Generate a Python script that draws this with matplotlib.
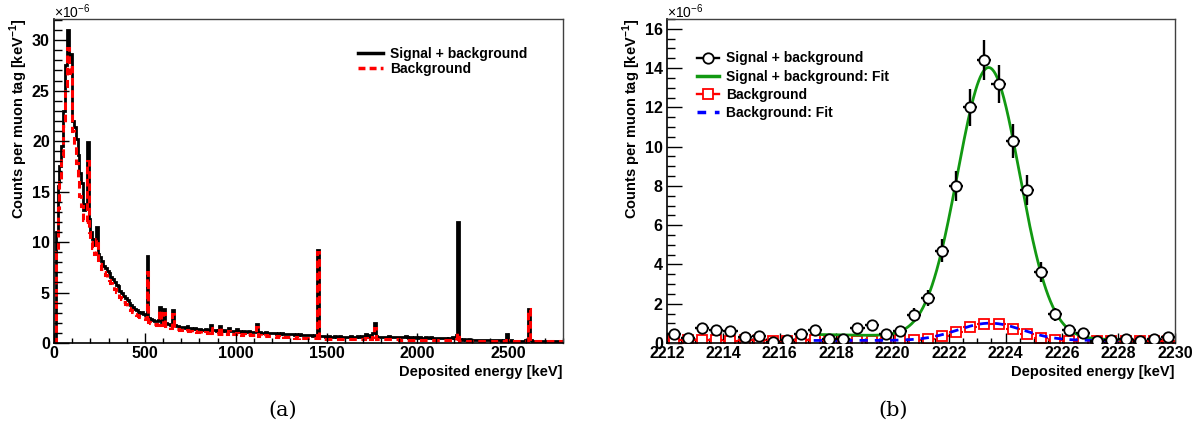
import matplotlib
matplotlib.use('Agg')
import matplotlib.pyplot as plt
import numpy as np
from matplotlib.lines import Line2D
from matplotlib.ticker import MultipleLocator

plt.rcParams['font.family'] = ['Liberation Sans', 'DejaVu Sans']
plt.rcParams['mathtext.fontset'] = 'custom'
plt.rcParams['mathtext.rm'] = 'Liberation Sans'
plt.rcParams['mathtext.bf'] = 'Liberation Sans:bold'

# ---- (a) full spectrum, 10 keV bins from 0 to 2800 keV, units of 1e-6 ----
bin_width = 10
sig_bkg = [
    0.3, 11.0, 15.6, 17.5, 19.5, 23.0, 27.5, 31.0, 27.8, 28.6,
    22.0, 21.4, 20.2, 18.6, 16.8, 15.9, 13.2, 13.8, 19.9, 12.3,
    11.0, 10.3, 9.7, 11.5, 8.8, 8.5, 8.1, 7.6, 7.4, 7.1,
    6.9, 6.5, 6.3, 6.0, 5.7, 5.6, 5.2, 5.0, 4.7, 4.5,
    4.3, 4.0, 3.8, 3.6, 3.4, 3.3, 3.1, 3.0, 3.1, 2.9,
    2.8, 8.6, 2.5, 2.4, 2.3, 2.2, 2.2, 2.3, 3.6, 2.1,
    3.4, 2.0, 1.9, 1.9, 1.8, 3.3, 1.8, 1.7, 1.7, 1.6,
    1.6, 1.6, 1.5, 1.7, 1.5, 1.5, 1.4, 1.5, 1.4, 1.4,
    1.4, 1.3, 1.3, 1.4, 1.3, 1.3, 1.8, 1.3, 1.3, 1.2,
    1.3, 1.7, 1.2, 1.3, 1.2, 1.2, 1.5, 1.2, 1.2, 1.2,
    1.4, 1.1, 1.2, 1.1, 1.2, 1.1, 1.1, 1.2, 1.1, 1.1,
    1.1, 1.9, 1.0, 1.1, 1.0, 1.0, 1.1, 1.0, 1.0, 1.0,
    1.0, 1.0, 0.9, 1.0, 0.9, 1.0, 0.9, 0.9, 0.9, 0.9,
    0.9, 0.9, 0.8, 0.9, 0.8, 0.9, 0.8, 0.8, 0.8, 0.8,
    0.8, 0.8, 0.7, 0.8, 0.8, 9.2, 0.7, 0.7, 0.7, 0.6,
    0.6, 0.7, 0.6, 0.6, 0.7, 0.6, 0.6, 0.7, 0.6, 0.6,
    0.6, 0.6, 0.6, 0.7, 0.6, 0.6, 0.6, 0.7, 0.6, 0.7,
    0.7, 0.9, 0.7, 0.8, 0.6, 1.0, 2.0, 0.7, 0.6, 0.6,
    0.6, 0.6, 0.6, 0.6, 0.7, 0.6, 0.6, 0.6, 0.6, 0.6,
    0.6, 0.6, 0.6, 0.7, 0.6, 0.5, 0.6, 0.5, 0.6, 0.6,
    0.5, 0.6, 0.5, 0.5, 0.6, 0.5, 0.5, 0.6, 0.5, 0.5,
    0.5, 0.5, 0.5, 0.5, 0.5, 0.5, 0.4, 0.5, 0.5, 0.6,
    0.5, 0.8, 12.0, 0.4, 0.3, 0.4, 0.3, 0.3, 0.4, 0.3,
    0.3, 0.3, 0.3, 0.3, 0.3, 0.3, 0.3, 0.3, 0.3, 0.3,
    0.3, 0.3, 0.3, 0.3, 0.3, 0.3, 0.2, 0.3, 0.3, 0.9,
    0.2, 0.3, 0.2, 0.2, 0.2, 0.2, 0.2, 0.2, 0.2, 0.3,
    0.3, 3.4, 0.3, 0.2, 0.2, 0.2, 0.2, 0.2, 0.2, 0.2,
    0.2, 0.2, 0.2, 0.2, 0.2, 0.2, 0.2, 0.2, 0.2, 0.2,
]
bkg = [
    0.0, 9.0, 13.4, 16.0, 18.5, 21.5, 25.5, 29.2, 26.8, 27.3,
    21.0, 19.6, 17.8, 16.3, 14.6, 13.6, 12.2, 12.0, 18.0, 11.0,
    10.0, 9.4, 8.8, 10.3, 8.0, 7.8, 7.3, 7.0, 6.7, 6.5,
    6.2, 5.9, 5.6, 5.4, 5.1, 4.9, 4.6, 4.4, 4.1, 3.9,
    3.7, 3.5, 3.3, 3.1, 2.9, 2.8, 2.7, 2.6, 2.6, 2.5,
    2.4, 7.0, 2.1, 2.0, 1.9, 1.9, 1.8, 1.9, 3.3, 1.8,
    3.0, 1.7, 1.6, 1.6, 1.5, 2.9, 1.5, 1.4, 1.4, 1.3,
    1.3, 1.3, 1.2, 1.3, 1.2, 1.2, 1.1, 1.2, 1.1, 1.1,
    1.1, 1.0, 1.0, 1.1, 1.0, 1.0, 1.5, 1.0, 1.0, 0.9,
    1.0, 1.6, 0.9, 1.0, 0.9, 0.9, 1.2, 0.9, 0.9, 0.9,
    1.0, 0.8, 0.9, 0.8, 0.9, 0.8, 0.8, 0.9, 0.8, 0.8,
    0.8, 1.6, 0.7, 0.8, 0.7, 0.7, 0.8, 0.7, 0.7, 0.7,
    0.7, 0.7, 0.6, 0.7, 0.6, 0.7, 0.6, 0.6, 0.6, 0.6,
    0.6, 0.6, 0.5, 0.6, 0.5, 0.6, 0.5, 0.5, 0.5, 0.5,
    0.5, 0.5, 0.5, 0.5, 0.5, 9.0, 0.5, 0.4, 0.4, 0.4,
    0.4, 0.4, 0.4, 0.4, 0.4, 0.4, 0.4, 0.4, 0.4, 0.4,
    0.4, 0.4, 0.4, 0.4, 0.4, 0.4, 0.4, 0.4, 0.4, 0.4,
    0.4, 0.5, 0.4, 0.5, 0.4, 0.6, 1.5, 0.4, 0.4, 0.4,
    0.35, 0.35, 0.35, 0.35, 0.35, 0.35, 0.35, 0.35, 0.35, 0.35,
    0.3, 0.3, 0.3, 0.3, 0.3, 0.3, 0.3, 0.3, 0.3, 0.3,
    0.3, 0.3, 0.3, 0.3, 0.3, 0.3, 0.3, 0.3, 0.3, 0.3,
    0.3, 0.3, 0.3, 0.3, 0.3, 0.3, 0.3, 0.3, 0.3, 0.3,
    0.3, 0.4, 1.0, 0.2, 0.2, 0.2, 0.2, 0.2, 0.2, 0.2,
    0.2, 0.2, 0.2, 0.2, 0.2, 0.2, 0.2, 0.2, 0.2, 0.2,
    0.2, 0.2, 0.2, 0.2, 0.2, 0.2, 0.15, 0.2, 0.2, 0.3,
    0.15, 0.15, 0.15, 0.15, 0.15, 0.15, 0.15, 0.15, 0.15, 0.2,
    0.2, 3.4, 0.2, 0.15, 0.15, 0.15, 0.15, 0.15, 0.15, 0.15,
    0.15, 0.15, 0.15, 0.15, 0.15, 0.15, 0.15, 0.15, 0.15, 0.15,
]

# ---- (b) zoom on the 2223 keV line, 0.5 keV bins, units of 1e-6 ----
zoom_centers = [2212.25 + 0.5 * i for i in range(36)]
zoom_sig = [0.44, 0.24, 0.75, 0.68, 0.60, 0.29, 0.36, 0.07, 0.15, 0.44,
            0.68, 0.20, 0.20, 0.75, 0.92, 0.44, 0.62, 1.45, 2.3, 4.7,
            8.0, 12.0, 14.4, 13.2, 10.3, 7.8, 3.6, 1.46, 0.66, 0.53,
            0.12, 0.15, 0.22, 0.10, 0.20, 0.29]
zoom_sig_err = [0.18, 0.13, 0.23, 0.22, 0.21, 0.15, 0.16, 0.07, 0.10, 0.18,
                0.22, 0.12, 0.12, 0.23, 0.26, 0.18, 0.21, 0.33, 0.41, 0.58,
                0.76, 0.93, 1.02, 0.98, 0.87, 0.75, 0.51, 0.33, 0.22, 0.20,
                0.09, 0.10, 0.13, 0.09, 0.12, 0.15]
zoom_bkg = [0.15, 0.13, 0.14, 0.14, 0.12, 0.15, 0.14, 0.09, 0.12, 0.14,
            0.13, 0.14, 0.14, 0.12, 0.12, 0.14, 0.15, 0.16, 0.22, 0.36,
            0.58, 0.82, 0.99, 0.95, 0.70, 0.48, 0.25, 0.17, 0.12, 0.10,
            0.10, 0.10, 0.12, 0.10, 0.12, 0.10]

# fit parameters: gaussian + linear background
fit_range = (2217.2, 2228.0)
sig_fit = dict(amp=13.75, mu=2223.4, sigma=1.1, b0=0.28, b1=-0.025)
bkg_fit = dict(amp=0.88, mu=2223.45, sigma=1.15, b0=0.13, b1=0.0)


def gauss_lin(e, amp, mu, sigma, b0, b1):
    return amp * np.exp(-0.5 * ((e - mu) / sigma) ** 2) + b0 + b1 * (e - mu)


def style_axes(ax):
    for side in ['left', 'bottom']:
        ax.spines[side].set_linewidth(1.2)
    for side in ['top', 'right']:
        ax.spines[side].set_linewidth(1.0)
        ax.spines[side].set_color('#404040')
    ax.tick_params(which='both', direction='in', top=False, right=False,
                   labelsize=11.5, width=1.0)
    ax.tick_params(axis='y', which='major', length=11, pad=3)
    ax.tick_params(axis='y', which='minor', length=5.5)
    ax.tick_params(axis='x', which='major', length=7, pad=2)
    ax.tick_params(axis='x', which='minor', length=3.5)
    for lab in ax.get_xticklabels() + ax.get_yticklabels():
        lab.set_fontweight('bold')
    ax.set_ylabel(r'Counts per muon tag [keV$^{\mathbf{-1}}$]', fontsize=10.5,
                  fontweight='bold', loc='top', labelpad=1)
    ax.set_xlabel('Deposited energy [keV]', fontsize=10.5, fontweight='bold',
                  loc='right', labelpad=3)
    ax.text(0.0, 1.004, r'$\times10^{-6}$', transform=ax.transAxes,
            fontsize=10, ha='left', va='baseline')


fig = plt.figure(figsize=(12, 4.32), dpi=100)
ax1 = fig.add_axes([0.045, 0.206, 0.424, 0.75])
ax2 = fig.add_axes([0.5558, 0.206, 0.4233, 0.75])

# (a)
edges = np.arange(0, bin_width * (len(sig_bkg) + 1), bin_width)
ax1.stairs(sig_bkg, edges, color='black', lw=2.0)
ax1.stairs(bkg, edges, color='#ff0000', lw=2.2, linestyle=(0, (2.5, 1.5)))
ax1.set_xlim(0, 2800)
ax1.set_ylim(0, 32.1)
ax1.xaxis.set_major_locator(MultipleLocator(500))
ax1.xaxis.set_minor_locator(MultipleLocator(100))
ax1.yaxis.set_major_locator(MultipleLocator(5))
ax1.yaxis.set_minor_locator(MultipleLocator(1))
style_axes(ax1)
handles1 = [Line2D([], [], color='black', lw=2.5),
            Line2D([], [], color='#ff0000', lw=2.5, linestyle=(0, (2.0, 1.2)))]
ax1.legend(handles1, ['Signal + background', 'Background'], loc='upper left',
           bbox_to_anchor=(0.597, 0.915), frameon=False, borderpad=0,
           borderaxespad=0, handlelength=1.8, handletextpad=0.5,
           labelspacing=0.1, prop={'weight': 'bold', 'size': 10})

# (b)
ax2.errorbar(zoom_centers, zoom_bkg, xerr=0.25, fmt='s', color='#ff0000',
             mfc='white', mec='#ff0000', ms=7.5, mew=1.3, elinewidth=1.5,
             capsize=0, zorder=2)
e_fit = np.linspace(fit_range[0], fit_range[1], 400)
ax2.plot(e_fit, gauss_lin(e_fit, **sig_fit), color='#129912', lw=2.0, zorder=3)
ax2.plot(e_fit, gauss_lin(e_fit, **bkg_fit), color='#0000ff', lw=2.0,
         linestyle=(0, (3, 2.5)), zorder=3)
ax2.errorbar(zoom_centers, zoom_sig, xerr=0.25, yerr=zoom_sig_err, fmt='o',
             color='black', mfc='white', mec='black', ms=7.5, mew=1.3,
             elinewidth=1.7, capsize=0, zorder=4)
ax2.set_xlim(2212, 2230)
ax2.set_ylim(0, 16.5)
ax2.xaxis.set_major_locator(MultipleLocator(2))
ax2.xaxis.set_minor_locator(MultipleLocator(0.5))
ax2.yaxis.set_major_locator(MultipleLocator(2))
ax2.yaxis.set_minor_locator(MultipleLocator(0.5))
ax2.ticklabel_format(useOffset=False, axis='x')
style_axes(ax2)
handles2 = [Line2D([], [], color='black', lw=1.7, marker='o', mfc='white',
                   mec='black', ms=7.5, mew=1.3),
            Line2D([], [], color='#129912', lw=2.5),
            Line2D([], [], color='#ff0000', lw=1.7, marker='s', mfc='white',
                   mec='#ff0000', ms=7.5, mew=1.3),
            Line2D([], [], color='#0000ff', lw=2.5, linestyle=(0, (2.5, 2.5)))]
ax2.legend(handles2, ['Signal + background', 'Signal + background: Fit',
                      'Background', 'Background: Fit'], loc='upper left',
           bbox_to_anchor=(0.059, 0.9), frameon=False, borderpad=0,
           borderaxespad=0, handlelength=1.6, handletextpad=0.5,
           labelspacing=0.3, prop={'weight': 'bold', 'size': 10})

fig.text(283 / 1200, 1 - 410 / 432, '(a)', fontsize=15, ha='center',
         va='center', family='DejaVu Serif')
fig.text(893 / 1200, 1 - 410 / 432, '(b)', fontsize=15, ha='center',
         va='center', family='DejaVu Serif')

fig.savefig('out.png', dpi=100)
